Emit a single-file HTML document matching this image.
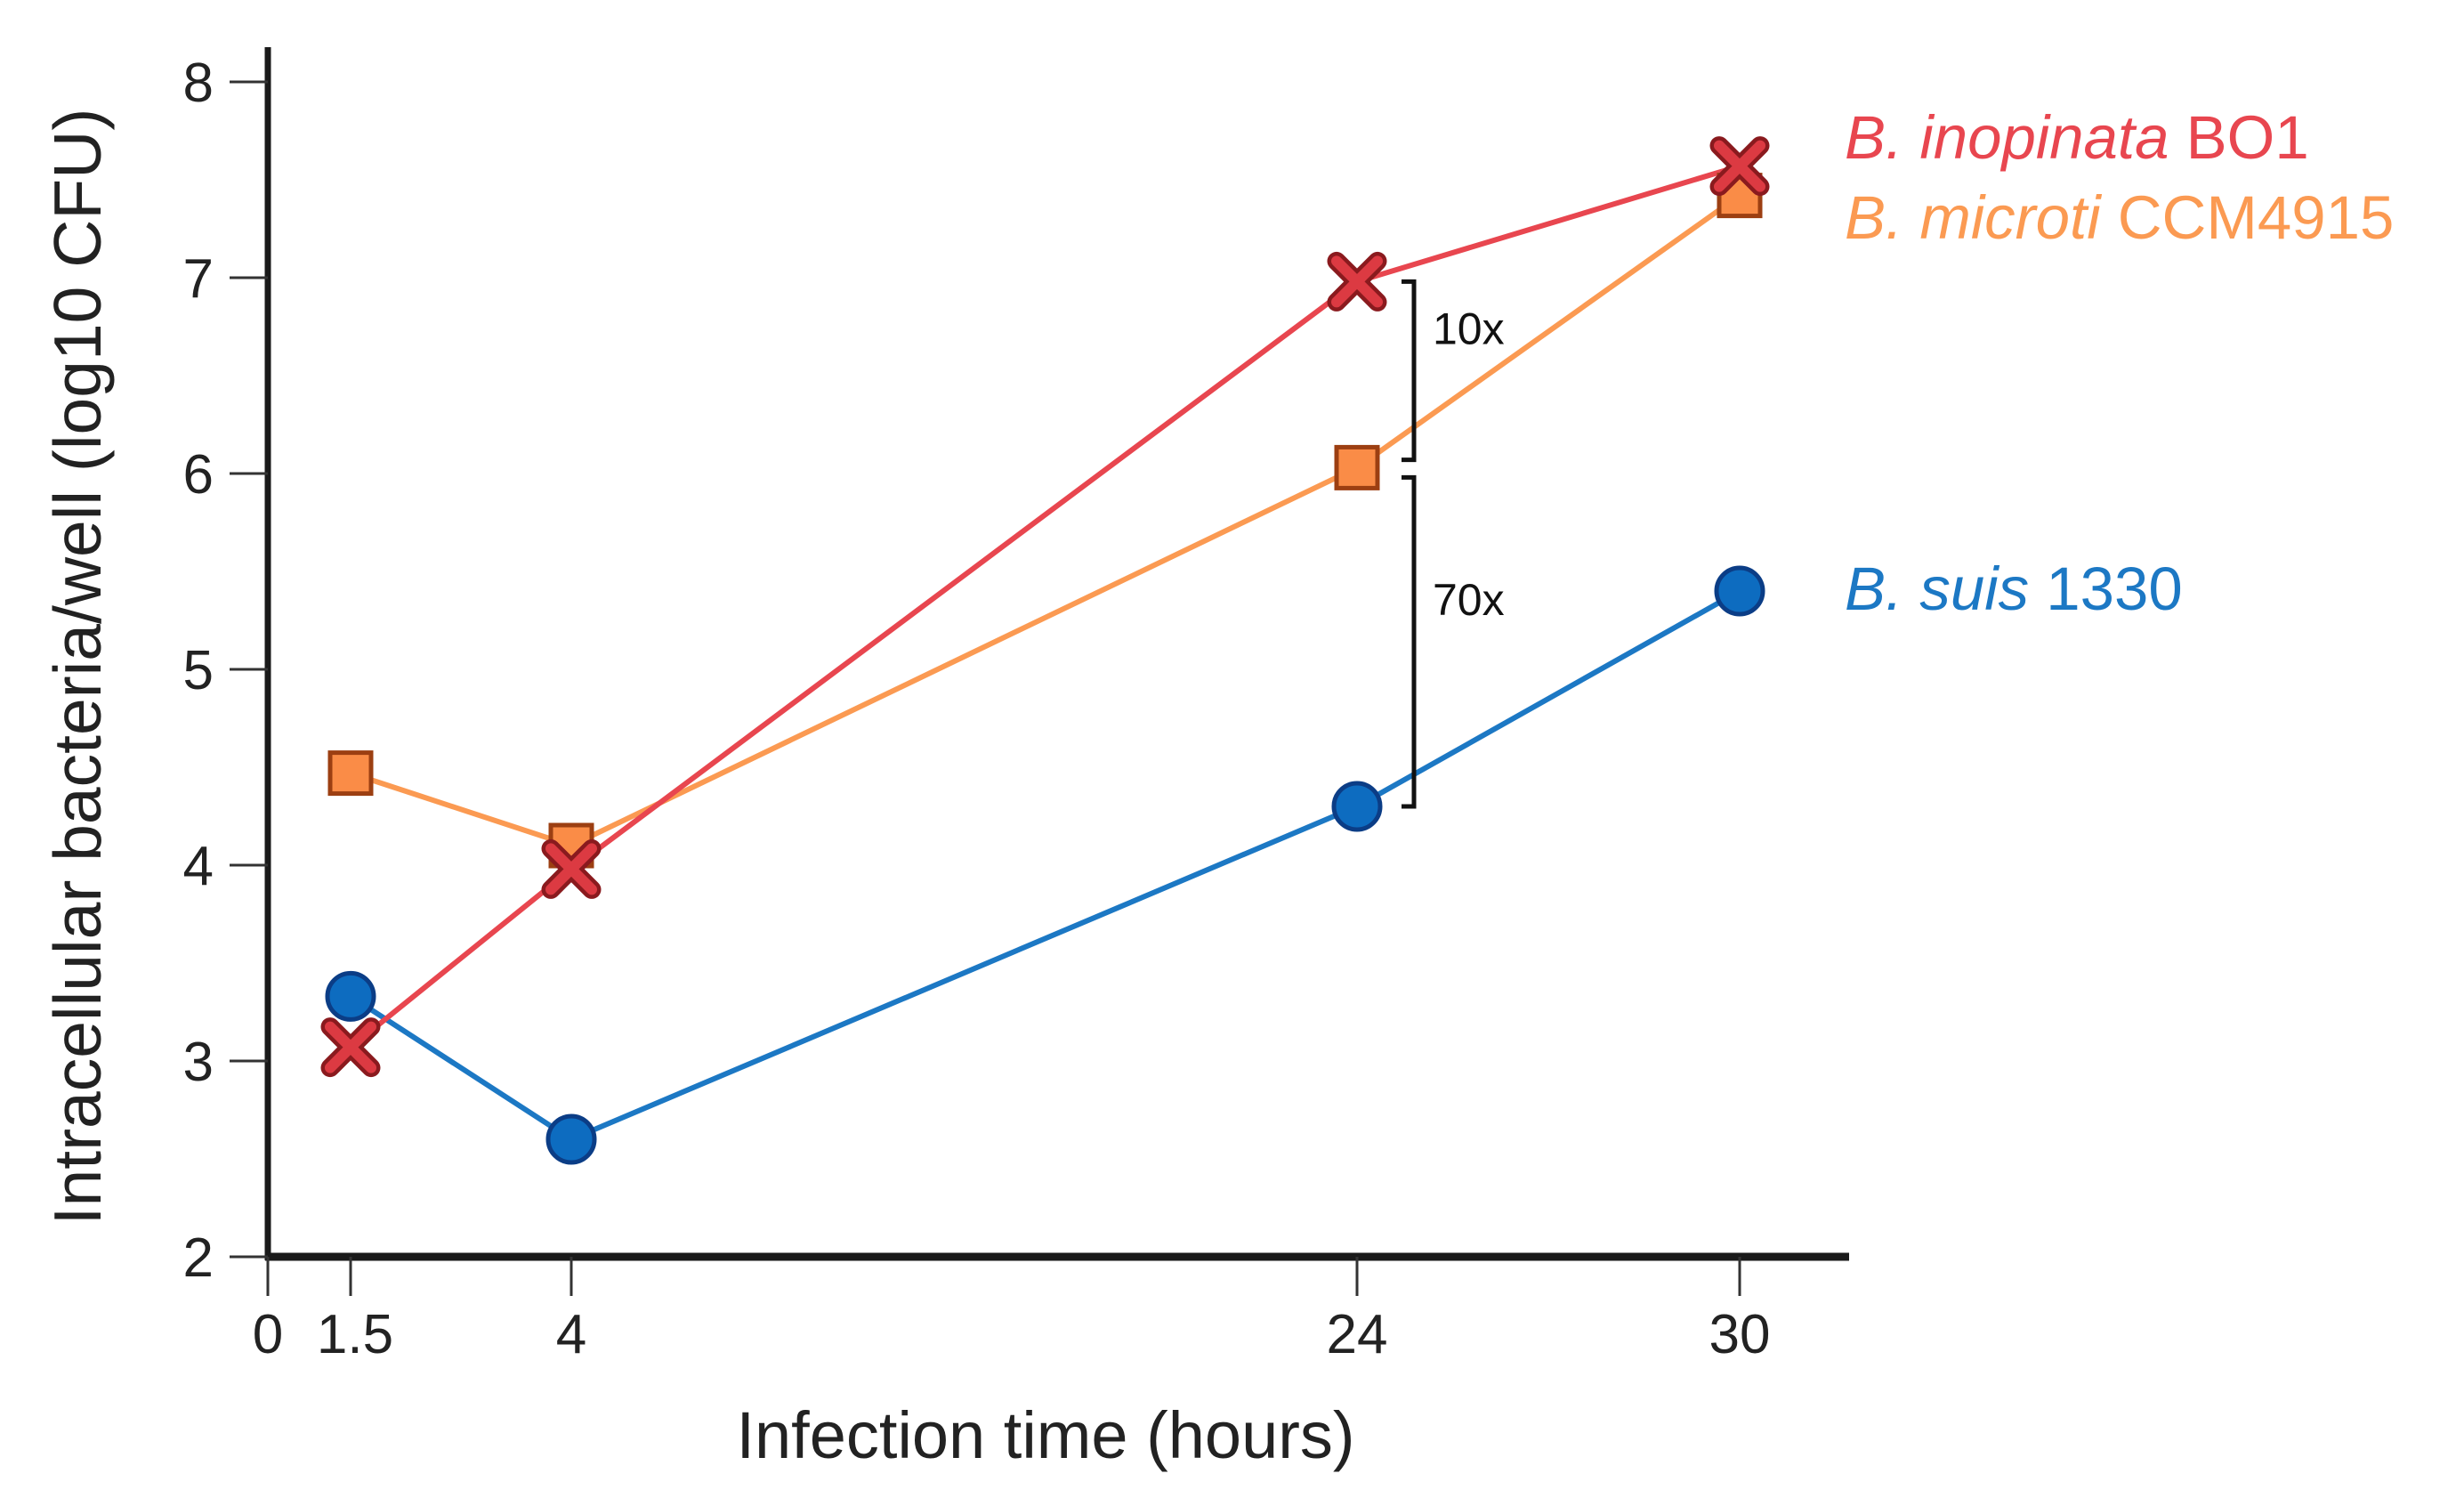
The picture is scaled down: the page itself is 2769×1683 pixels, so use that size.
<!DOCTYPE html>
<html><head><meta charset="utf-8"><style>
html,body{margin:0;padding:0;background:#fff;}
svg{display:block;}
text{font-family:"Liberation Sans",sans-serif;}
</style></head><body>
<svg id="chart" width="2769" height="1683" viewBox="0 0 2769 1683" xmlns="http://www.w3.org/2000/svg">
<g id="axes"></g><g id="series"></g><g id="annot"></g>
</svg>
<script>
const xTicks=[0,1.5,4,24,30];
const xTickLabels=["0","1.5","4","24","30"];
const yTicks=[2,3,4,5,6,7,8];
const times=[1.5,4,24,30];
const inopinata=[3.07,3.98,6.98,7.57];
const microti=[4.47,4.1,6.03,7.42];
const suis=[3.33,2.6,4.3,5.4];

const NS="http://www.w3.org/2000/svg";
const xPix=[301,394,642,1525,1955];
function X(v){
  for(let i=0;i<xTicks.length-1;i++){
    if(v<=xTicks[i+1]){const t=(v-xTicks[i])/(xTicks[i+1]-xTicks[i]);return xPix[i]+t*(xPix[i+1]-xPix[i]);}
  }
  return xPix[xPix.length-1];
}
function Y(v){return 1412-(v-2)*220;}
function mk(tag,attrs,parent,text){const e=document.createElementNS(NS,tag);for(const k in attrs)e.setAttribute(k,attrs[k]);if(text!==undefined)e.textContent=text;parent.appendChild(e);return e;}
const axes=document.getElementById('axes'),ser=document.getElementById('series'),ann=document.getElementById('annot');

let e=mk('line',{x1:301,y1:53,x2:301,y2:1416,stroke:'#1a1a1a','stroke-width':7},axes);

e=mk('line',{x1:298,y1:1412,x2:2078,y2:1412,stroke:'#1a1a1a','stroke-width':9},axes);

yTicks.forEach(v=>{
  let t=mk('line',{x1:258,y1:Y(v),x2:301,y2:Y(v),stroke:'#333','stroke-width':3},axes);
  
  let l=mk('text',{x:240,y:Y(v)+22,'text-anchor':'end','font-size':62,fill:'#222'},axes,String(v));
  
});
xTicks.forEach((v,i)=>{
  let t=mk('line',{x1:X(v),y1:1412,x2:X(v),y2:1456,stroke:'#333','stroke-width':3},axes);
  
  let l=mk('text',{x:X(v)+(i===1?5:0),y:1520,'text-anchor':'middle','font-size':62,fill:'#222'},axes,xTickLabels[i]);
  
});
e=mk('text',{x:1175,y:1638,'text-anchor':'middle','font-size':74,fill:'#222'},axes,'Infection time (hours)');

e=mk('text',{x:0,y:0,'text-anchor':'middle','font-size':75,fill:'#222',transform:'translate(113,749) rotate(-90)'},axes,'Intracellular bacteria/well (log10 CFU)');


function line(vals,color,name){
  const pts=vals.map((v,i)=>X(times[i])+','+Y(v)).join(' ');
  const p=mk('polyline',{points:pts,fill:'none',stroke:color,'stroke-width':6},ser);
  
}
line(suis,'#1c78c4','suis-line');
line(microti,'#fb9a52','microti-line');
line(inopinata,'#e8464f','inopinata-line');
suis.forEach((v,i)=>{
  const c=mk('circle',{cx:X(times[i]),cy:Y(v),r:26,fill:'#0d6cc0',stroke:'#0b3d86','stroke-width':5},ser);
  
});
microti.forEach((v,i)=>{
  const r=mk('rect',{x:X(times[i])-23,y:Y(v)-23,width:46,height:46,fill:'#fa8c47',stroke:'#9c3f12','stroke-width':5},ser);
  
});
inopinata.forEach((v,i)=>{
  const cx=X(times[i]),cy=Y(v),s=23;
  const d=`M${cx-s},${cy-s}L${cx+s},${cy+s}M${cx+s},${cy-s}L${cx-s},${cy+s}`;
  const g=mk('g',{},ser);
  
  mk('path',{d:d,stroke:'#8a1a1e','stroke-width':21,'stroke-linecap':'round'},g);
  mk('path',{d:d,stroke:'#dc3a42','stroke-width':12,'stroke-linecap':'round'},g);
});
function bracket(v1,v2,label,name){
  const x=1589,y1=Y(v1),y2=Y(v2);
  const p=mk('path',{d:`M${x-14},${y1}H${x}V${y2}H${x-14}`,fill:'none',stroke:'#111','stroke-width':5},ann);
  
  const t=mk('text',{x:1610,y:(y1+y2)/2-30,'font-size':50,fill:'#111'},ann,label);
  
}
bracket(6.98,6.07,'10x','bracket-10x');
bracket(5.98,4.3,'70x','bracket-70x');
function leg(y,color,it,rest,name){
  const t=mk('text',{x:2073,y:y,'font-size':69,fill:color},ann);
  
  mk('tspan',{'font-style':'italic'},t,it);
  mk('tspan',{},t,' '+rest);
}
leg(178,'#e8464f','B. inopinata','BO1','legend-inopinata');
leg(268,'#fb9a52','B. microti','CCM4915','legend-microti');
leg(685,'#1c78c4','B. suis','1330','legend-suis');
</script>
</body></html>
